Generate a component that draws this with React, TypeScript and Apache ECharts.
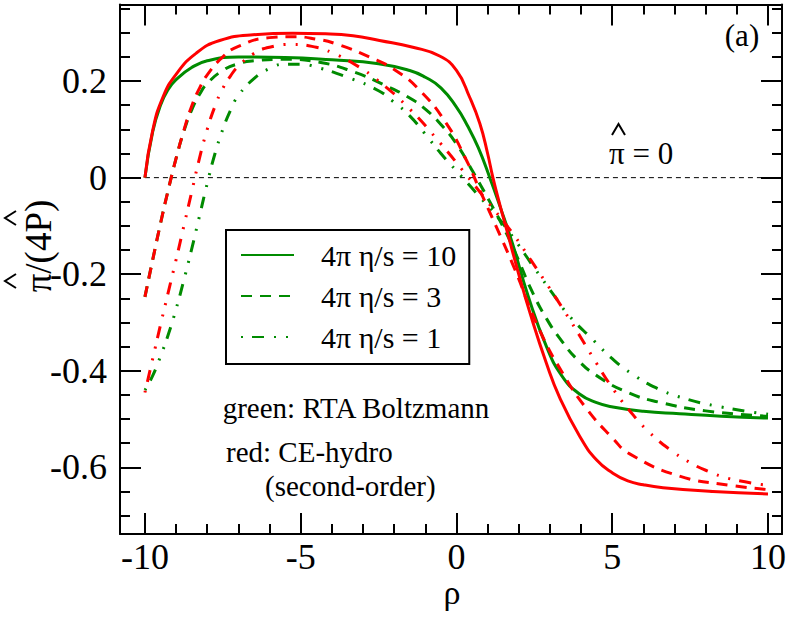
import React, { useEffect, useRef } from "react";
import * as echarts from "echarts";

const FONT = "Liberation Serif";
const GREEN = "#008b00";
const RED = "#ff0000";

const xRange = [-10.8, 10.45];
const yRange = [-0.738, 0.3586];
const xMajor = [-10, -5, 0, 5, 10];
const xMinor = [-9, -8, -7, -6, -4, -3, -2, -1, 1, 2, 3, 4, 6, 7, 8, 9];
const yMajor = [-0.6, -0.4, -0.2, 0, 0.2];
const yMinor = [-0.7, -0.65, -0.55, -0.5, -0.45, -0.35, -0.3, -0.25, -0.15, -0.1, -0.05, 0.05, 0.1, 0.15, 0.25, 0.3, 0.35];

const legendNames = ["4π η/s = 10", "4π η/s = 3", "4π η/s = 1"];
const ceNames = ["CE-hydro 4π η/s = 10", "CE-hydro 4π η/s = 3", "CE-hydro 4π η/s = 1"];

const zeroLine = [[-10, 0], [10.45, 0]];

// green: RTA Boltzmann
const rtaEta10 = [[-10, 0], [-9.75, 0.095], [-9.5, 0.15], [-9.25, 0.183], [-9, 0.203], [-8.5, 0.228], [-8, 0.242], [-7, 0.25], [-5.5, 0.249], [-4, 0.244], [-2.5, 0.236], [-1.5, 0.222], [-1, 0.208], [-0.5, 0.186], [0, 0.146], [0.35, 0.108], [0.7, 0.062], [1.07, 0.0], [1.4, -0.06], [1.8, -0.137], [2.3, -0.245], [2.89, -0.35], [3.4, -0.412], [3.95, -0.448], [4.5, -0.466], [5.02, -0.475], [6, -0.484], [7.16, -0.489], [8.5, -0.494], [10, -0.498]];
const rtaEta3 = [[-10, -0.247], [-9.75, -0.17], [-9.5, -0.095], [-9.25, -0.025], [-9, 0.04], [-8.75, 0.096], [-8.5, 0.14], [-8.25, 0.172], [-8, 0.195], [-7.5, 0.222], [-7, 0.236], [-6.5, 0.242], [-5.5, 0.245], [-4.4, 0.239], [-3.3, 0.219], [-2.25, 0.19], [-1.5, 0.165], [-1, 0.142], [-0.5, 0.11], [0, 0.07], [0.53, 0.012], [1.07, -0.05], [1.6, -0.115], [2.0, -0.172], [2.4, -0.232], [2.9, -0.293], [3.4, -0.34], [3.9, -0.378], [4.5, -0.41], [5.5, -0.445], [6.5, -0.465], [8, -0.483], [10, -0.494]];
const rtaEta1 = [[-10, -0.44], [-9.75, -0.41], [-9.5, -0.37], [-9.25, -0.325], [-9, -0.272], [-8.75, -0.212], [-8.5, -0.148], [-8.25, -0.08], [-8, -0.012], [-7.75, 0.05], [-7.5, 0.1], [-7.25, 0.14], [-7, 0.17], [-6.5, 0.205], [-6, 0.226], [-5.5, 0.235], [-5, 0.235], [-4.5, 0.229], [-3.5, 0.208], [-2.5, 0.18], [-2, 0.156], [-1.5, 0.128], [-1, 0.09], [-0.5, 0.05], [0.2, 0.0], [0.75, -0.04], [1.3, -0.08], [1.8, -0.122], [2.5, -0.187], [3.2, -0.25], [3.6, -0.285], [4.4, -0.337], [5.0, -0.375], [5.6, -0.405], [6.4, -0.435], [7.2, -0.455], [8.5, -0.475], [10, -0.49]];

// red: CE-hydro (second-order)
const ceEta10 = [[-10, 0], [-9.75, 0.098], [-9.42, 0.167], [-9, 0.214], [-8.35, 0.258], [-7.6, 0.284], [-6.53, 0.296], [-5.25, 0.299], [-4.2, 0.298], [-3.32, 0.294], [-2.47, 0.284], [-1.4, 0.27], [-0.54, 0.252], [0, 0.222], [0.42, 0.167], [0.75, 0.112], [1.0, 0.05], [1.17, 0.0], [1.4, -0.058], [1.6, -0.105], [2.0, -0.2], [2.35, -0.278], [2.89, -0.385], [3.31, -0.455], [3.95, -0.535], [4.5, -0.585], [5.02, -0.612], [5.5, -0.628], [6.0, -0.636], [6.63, -0.642], [8.23, -0.65], [10, -0.655]];
const ceEta3 = [[-10, -0.247], [-9.75, -0.17], [-9.5, -0.095], [-9.25, -0.025], [-9, 0.04], [-8.75, 0.098], [-8.5, 0.148], [-8.25, 0.185], [-8, 0.213], [-7.5, 0.25], [-7, 0.272], [-6, 0.29], [-5.25, 0.292], [-4.5, 0.287], [-3.86, 0.277], [-2.79, 0.25], [-2.0, 0.224], [-1.18, 0.181], [-0.32, 0.112], [0.32, 0.036], [0.75, -0.026], [1.28, -0.102], [1.81, -0.18], [2.67, -0.316], [3.42, -0.406], [4.17, -0.478], [5.02, -0.54], [5.56, -0.572], [7.16, -0.618], [8.77, -0.637], [10, -0.646]];
const ceEta1 = [[-10, -0.445], [-9.75, -0.375], [-9.5, -0.305], [-9.25, -0.237], [-9, -0.17], [-8.75, -0.1], [-8.5, -0.03], [-8.25, 0.04], [-8, 0.1], [-7.75, 0.148], [-7.5, 0.185], [-7.25, 0.211], [-7, 0.231], [-6.5, 0.257], [-6, 0.27], [-5.25, 0.276], [-4.5, 0.27], [-4, 0.259], [-3.3, 0.236], [-2.5, 0.2], [-1.5, 0.142], [-0.5, 0.07], [0.2, 0.015], [1.0, -0.05], [1.8, -0.115], [2.4, -0.172], [3.0, -0.23], [3.5, -0.28], [4.0, -0.332], [4.5, -0.385], [5.0, -0.435], [5.5, -0.478], [6.2, -0.528], [7.0, -0.57], [7.5, -0.59], [8.0, -0.606], [8.8, -0.624], [10, -0.637]];

const SOLID = "solid";
const DASHED = [11, 8];
const DASHDOTDOT = [2, 9, 12, 10, 2, 10];

function makeLine(name: string, data: number[][], color: string, type: any, z: number) {
  return {
    name,
    type: "line",
    data,
    showSymbol: false,
    symbol: "none",
    smooth: 0.5,
    z,
    lineStyle: { color, width: 3, type, cap: "butt", join: "round" },
    itemStyle: { color },
  };
}

function axisSet(kind: "x" | "y", major: number[], minor: number[], range: number[], labelOpts: any) {
  const majorPos = kind === "x" ? ["bottom", "top"] : ["left", "right"];
  const common = {
    type: "value",
    min: range[0],
    max: range[1],
    splitLine: { show: false },
    minorTick: { show: false },
  };
  const axes: any[] = [];
  majorPos.forEach((pos, i) => {
    axes.push({
      ...common,
      position: pos,
      axisLine: { show: true, onZero: false, lineStyle: { color: "#000", width: 2 } },
      axisTick: { show: true, inside: true, length: 21, lineStyle: { color: "#000", width: 2 }, customValues: major },
      axisLabel: i === 0 ? { ...labelOpts, customValues: major } : { show: false },
    });
    axes.push({
      ...common,
      position: pos,
      axisLine: { show: false, onZero: false },
      axisTick: { show: true, inside: true, length: 10, lineStyle: { color: "#000", width: 2 }, customValues: minor },
      axisLabel: { show: false },
    });
  });
  return axes;
}

export default function App() {
  const ref = useRef<HTMLDivElement>(null);
  useEffect(() => {
    if (!ref.current) return;
    const chart = echarts.init(ref.current, null, { renderer: "svg" });
    const labelBase = { show: true, color: "#000", fontFamily: FONT, fontSize: 36, fontWeight: "normal" };
    const option: any = {
      animation: false,
      backgroundColor: "#fff",
      textStyle: { fontFamily: FONT },
      grid: { left: 120, top: 4.5, right: 6.3, bottom: 84, containLabel: false },
      xAxis: axisSet("x", xMajor, xMinor, xRange, { ...labelBase, lineHeight: 24, margin: 11, formatter: (v: number) => String(v) }),
      yAxis: axisSet("y", yMajor, yMinor, yRange, { ...labelBase, margin: 13, formatter: (v: number) => String(v) }),
      legend: {
        data: legendNames,
        orient: "vertical",
        left: 226,
        top: 230,
        padding: [10, 13, 12, 14],
        itemGap: 11,
        itemWidth: 53,
        itemHeight: 14,
        borderColor: "#000",
        borderWidth: 2,
        selectedMode: false,
        itemStyle: { opacity: 0 },
        textStyle: { fontSize: 30, fontFamily: FONT, color: "#000", padding: [0, 0, 0, 22] },
      },
      series: [
        {
          name: "π = 0",
          type: "line",
          data: zeroLine,
          showSymbol: false,
          symbol: "none",
          z: 1,
          silent: true,
          lineStyle: { color: "#000", width: 1, type: [5, 4] },
        },
        makeLine(legendNames[0], rtaEta10, GREEN, SOLID, 2),
        makeLine(legendNames[1], rtaEta3, GREEN, DASHED, 2),
        makeLine(legendNames[2], rtaEta1, GREEN, DASHDOTDOT, 2),
        makeLine(ceNames[0], ceEta10, RED, SOLID, 3),
        makeLine(ceNames[1], ceEta3, RED, DASHED, 3),
        makeLine(ceNames[2], ceEta1, RED, DASHDOTDOT, 3),
      ],
      graphic: [
        { type: "text", x: 38, y: 246, rotation: Math.PI / 2, style: { text: "π/(4P)", fontSize: 37, fontFamily: FONT, fill: "#000", align: "center", verticalAlign: "middle" } },
        { type: "polyline", shape: { points: [[16, 274], [5, 281], [16, 288]] }, style: { stroke: "#000", lineWidth: 2, fill: null } },
        { type: "polyline", shape: { points: [[16, 211], [5, 218], [16, 225]] }, style: { stroke: "#000", lineWidth: 2, fill: null } },
        { type: "text", x: 452, y: 592.5, style: { text: "ρ", fontSize: 34, lineHeight: 22, fontFamily: FONT, fill: "#000", align: "center", verticalAlign: "middle" } },
        { type: "text", x: 742, y: 35, style: { text: "(a)", fontSize: 31, fontFamily: FONT, fill: "#000", align: "center", verticalAlign: "middle" } },
        { type: "text", x: 609, y: 153, style: { text: "π = 0", fontSize: 31, fontFamily: FONT, fill: "#000", align: "left", verticalAlign: "middle" } },
        { type: "polyline", shape: { points: [[612, 135], [618.5, 124], [625, 135]] }, style: { stroke: "#000", lineWidth: 2, fill: null } },
        { type: "text", x: 222.7, y: 408, style: { text: "green: RTA Boltzmann", fontSize: 29, fontFamily: FONT, fill: "#000", align: "left", verticalAlign: "middle" } },
        { type: "text", x: 226, y: 452, style: { text: "red: CE-hydro", fontSize: 29, fontFamily: FONT, fill: "#000", align: "left", verticalAlign: "middle" } },
        { type: "text", x: 265, y: 486, style: { text: "(second-order)", fontSize: 29, fontFamily: FONT, fill: "#000", align: "left", verticalAlign: "middle" } },
      ],
    };
    chart.setOption(option);
    return () => chart.dispose();
  }, []);
  return <div ref={ref} style={{ position: "fixed", left: 0, top: 0, width: 789, height: 618 }} />;
}
